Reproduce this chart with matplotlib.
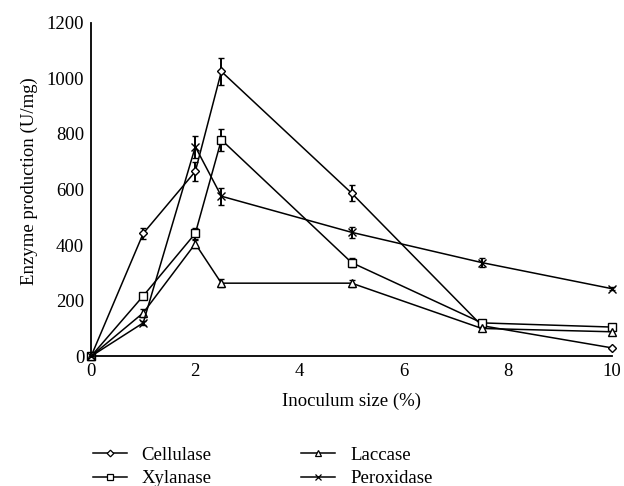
import matplotlib.pyplot as plt

plt.rcParams['font.family'] = ['Liberation Serif', 'DejaVu Serif']

# inoculum size (%)
x = [0, 1, 2, 2.5, 5, 7.5, 10]

cellulase = [0, 442, 665, 1025, 587, 110, 30]
cellulase_err = [0, 20, 35, 50, 30, 8, 5]
xylanase = [0, 217, 442, 779, 337, 120, 105]
xylanase_err = [0, 10, 20, 40, 15, 8, 8]
laccase = [0, 156, 405, 263, 263, 100, 88]
laccase_err = [0, 15, 15, 15, 12, 8, 8]
peroxidase = [0, 120, 754, 576, 446, 337, 243]
peroxidase_err = [0, 8, 40, 30, 20, 15, 5]

series = [
    ('Cellulase', cellulase, cellulase_err, 'D', 4.5),
    ('Xylanase', xylanase, xylanase_err, 's', 6),
    ('Laccase', laccase, laccase_err, '^', 6),
    ('Peroxidase', peroxidase, peroxidase_err, 'x', 6),
]

fig = plt.figure(figsize=(6.24, 4.86), dpi=100)
ax = fig.add_axes([0.146, 0.267, 0.835, 0.686])

for name, y, err, m, ms in series:
    ax.errorbar(x, y, yerr=err, color='black', lw=1.1, marker=m, ms=ms,
                mfc='white', mec='black', mew=1.0, ecolor='black',
                elinewidth=1.4, capsize=2.5, capthick=1.4, label=name,
                clip_on=False)

ax.set_xlim(0, 10)
ax.set_ylim(0, 1200)
ax.set_xticks([0, 2, 4, 6, 8, 10])
ax.set_yticks(range(0, 1201, 200))
ax.tick_params(length=0, labelsize=13.5, pad=5)
for s in ['top', 'right']:
    ax.spines[s].set_visible(False)
ax.spines['left'].set_linewidth(1.3)
ax.spines['bottom'].set_linewidth(1.3)
ax.set_xlabel('Inoculum size (%)', fontsize=13.5, labelpad=9)
ax.set_ylabel('Enzyme production (U/mg)', fontsize=13.5)
ax.yaxis.set_label_coords(-0.102, 0.525)

# legend below the plot, two columns
leg_handles = []
for name, y, err, m, ms in series:
    lh, = ax.plot([], [], color='black', lw=1.1, marker=m, ms=ms * 0.75,
                  mfc='white', mec='black', mew=0.9)
    leg_handles.append(lh)
fig.legend(leg_handles, [s[0] for s in series], loc='center left',
           bbox_to_anchor=(0.149, 0.039), ncol=2, frameon=False, fontsize=13.5,
           handlelength=1.8, columnspacing=4.78, labelspacing=0.35,
           handletextpad=0.8, borderpad=0, borderaxespad=0)

plt.savefig('out.png', dpi=100)
